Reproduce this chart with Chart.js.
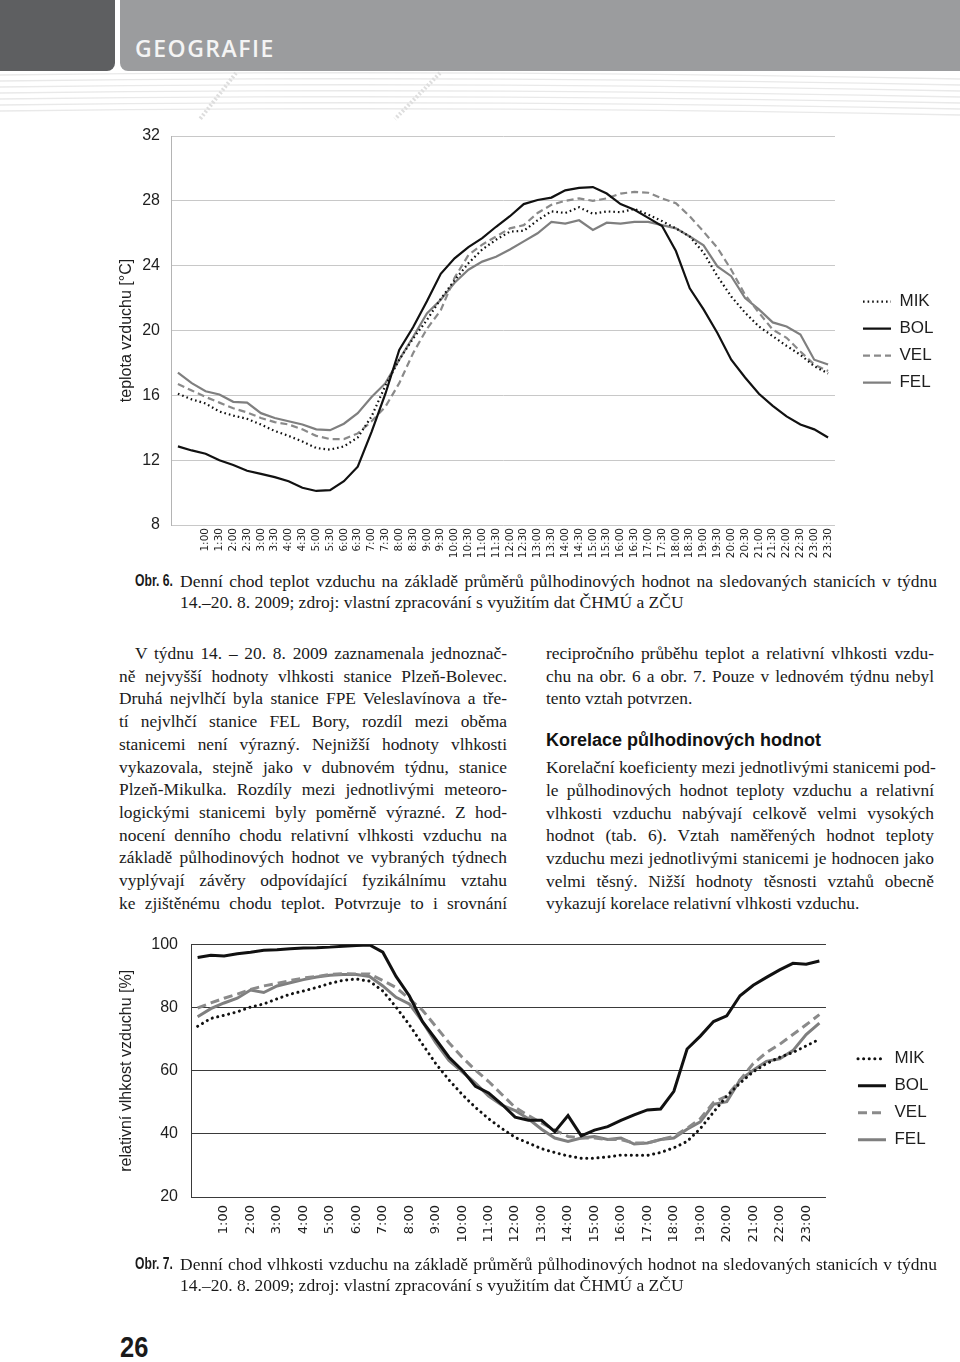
<!DOCTYPE html>
<html lang="cs">
<head>
<meta charset="utf-8">
<title>Geografie – obr. 6 a 7</title>
<script src="https://cdn.jsdelivr.net/npm/chart.js@4/dist/chart.umd.min.js"></script>
<style>
  html, body { margin: 0; padding: 0; background: #fff; }
  body { width: 960px; height: 1362px; position: relative; overflow: hidden;
         font-family: 'Liberation Serif', serif; color: #1a1a1a; }
  #tabDark { position: absolute; left: 0; top: 0; width: 115px; height: 71px;
             background: #5e5f61; border-bottom-right-radius: 8px; }
  #tabLight { position: absolute; left: 120px; top: 0; width: 840px; height: 71px;
              background: #9b9c9e; border-bottom-left-radius: 8px; }
  #tabLight span { position: absolute; left: 15px; top: 37px; font: 600 23px/23px 'Open Sans', sans-serif;
                   color: #f4f4f4; letter-spacing: 1.5px; }
  #deco { position: absolute; left: 0; top: 71px; }
  .chartBox { position: absolute; left: 100px; width: 860px; }
  #box1 { top: 115px; height: 450px; }
  #box2 { top: 922px; height: 343px; }
  .cap { position: absolute; left: 135px; width: 802px; font-size: 17.5px; line-height: 21px; }
  .cap b { position: absolute; left: 0; top: 1px; font: bold 16px 'Liberation Sans', sans-serif;
           transform: scaleX(0.76); transform-origin: 0 0; white-space: nowrap; }
  .cap div { margin-left: 45px; }
  .col { position: absolute; top: 642px; width: 388px; font-size: 17.4px; line-height: 22.7px; }
  .col div, .cap div { text-align: justify; text-align-last: justify; white-space: nowrap; }
  .col div.end, .cap div.end { text-align-last: left; }
  #colL { left: 119px; }
  #colR { left: 546px; }
  #colL .ind { text-indent: 16px; }
  h3 { margin: 0; height: 46px; box-sizing: border-box; padding-top: 20px;
       font: bold 18px/20px 'Liberation Sans', sans-serif; color: #111; }
  #pageNo { position: absolute; left: 120px; top: 1330px; font: bold 30px 'Liberation Sans', sans-serif;
            color: #1a1a1a; transform: scaleX(0.85); transform-origin: 0 0; }
</style>
</head>
<body>
<div id="tabDark"></div>
<div id="tabLight"><span>GEOGRAFIE</span></div>
<svg id="deco" width="960" height="50" viewBox="0 0 960 50">
  <g fill="none" stroke="#e9e9e9" stroke-width="1.3">
    <path d="M0,4 Q480,-2 960,8"/>
    <path d="M0,10 Q480,4 960,14"/>
    <path d="M0,16 Q480,10 960,20"/>
    <path d="M0,22 Q480,16 960,26"/>
    <path d="M0,28 Q480,22 960,32"/>
    <path d="M0,34 Q480,28 960,38"/>
    <path d="M0,40 Q480,34 960,44"/>
  </g>
  <g stroke="#dedede" stroke-width="4" stroke-dasharray="2 2">
    <line x1="236" y1="2" x2="200" y2="48"/>
    <line x1="440" y1="2" x2="395" y2="48"/>
  </g>
</svg>

<div class="chartBox" id="box1"><canvas id="tempChart"></canvas></div>

<div class="cap" style="top:571px">
  <b>Obr. 6.</b>
  <div>Denní chod teplot vzduchu na základě průměrů půlhodinových hodnot na sledovaných stanicích v týdnu</div>
  <div class="end">14.–20. 8. 2009; zdroj: vlastní zpracování s využitím dat ČHMÚ a ZČU</div>
</div>

<div class="col" id="colL">
  <div class="ind">V týdnu 14. – 20. 8. 2009 zaznamenala jednoznač-</div>
  <div>ně nejvyšší hodnoty vlhkosti stanice Plzeň-Bolevec.</div>
  <div>Druhá nejvlhčí byla stanice FPE Veleslavínova a tře-</div>
  <div>tí nejvlhčí stanice FEL Bory, rozdíl mezi oběma</div>
  <div>stanicemi není výrazný. Nejnižší hodnoty vlhkosti</div>
  <div>vykazovala, stejně jako v dubnovém týdnu, stanice</div>
  <div>Plzeň-Mikulka. Rozdíly mezi jednotlivými meteoro-</div>
  <div>logickými stanicemi byly poměrně výrazné. Z hod-</div>
  <div>nocení denního chodu relativní vlhkosti vzduchu na</div>
  <div>základě půlhodinových hodnot ve vybraných týdnech</div>
  <div>vyplývají závěry odpovídající fyzikálnímu vztahu</div>
  <div>ke zjištěnému chodu teplot. Potvrzuje to i srovnání</div>
</div>

<div class="col" id="colR">
  <div>recipročního průběhu teplot a relativní vlhkosti vzdu-</div>
  <div>chu na obr. 6 a obr. 7. Pouze v lednovém týdnu nebyl</div>
  <div class="end">tento vztah potvrzen.</div>
  <h3>Korelace půlhodinových hodnot</h3>
  <div>Korelační koeficienty mezi jednotlivými stanicemi pod-</div>
  <div>le půlhodinových hodnot teploty vzduchu a relativní</div>
  <div>vlhkosti vzduchu nabývají celkově velmi vysokých</div>
  <div>hodnot (tab. 6). Vztah naměřených hodnot teploty</div>
  <div>vzduchu mezi jednotlivými stanicemi je hodnocen jako</div>
  <div>velmi těsný. Nižší hodnoty těsnosti vztahů obecně</div>
  <div class="end">vykazují korelace relativní vlhkosti vzduchu.</div>
</div>

<div class="chartBox" id="box2"><canvas id="humChart"></canvas></div>

<div class="cap" style="top:1254px">
  <b>Obr. 7.</b>
  <div>Denní chod vlhkosti vzduchu na základě průměrů půlhodinových hodnot na sledovaných stanicích v týdnu</div>
  <div class="end">14.–20. 8. 2009; zdroj: vlastní zpracování s využitím dat ČHMÚ a ZČU</div>
</div>

<div id="pageNo">26</div>

<script>
// half-hour categories (first labels are not printed in the original)
const times = ['0:00','0:30','1:00','1:30','2:00','2:30','3:00','3:30','4:00','4:30','5:00','5:30',
  '6:00','6:30','7:00','7:30','8:00','8:30','9:00','9:30','10:00','10:30','11:00','11:30',
  '12:00','12:30','13:00','13:30','14:00','14:30','15:00','15:30','16:00','16:30','17:00','17:30',
  '18:00','18:30','19:00','19:30','20:00','20:30','21:00','21:30','22:00','22:30','23:00','23:30'];
const stations = ['MIK', 'BOL', 'VEL', 'FEL'];

// obr. 6 – teplota vzduchu [°C]
const tempTicks = [8, 12, 16, 20, 24, 28, 32];
const mikTemp = [16.1, 15.75, 15.5, 15.0, 14.75, 14.55, 14.2, 13.8, 13.5, 13.15, 12.75, 12.65,
  12.85, 13.4, 14.7, 16.6, 18.2, 19.5, 20.65, 21.95, 23.1, 24.15, 25.0, 25.6,
  26.1, 26.15, 26.8, 27.35, 27.25, 27.6, 27.2, 27.35, 27.3, 27.5, 27.15, 26.75,
  26.3, 25.8, 24.8, 23.35, 22.1, 21.1, 20.25, 19.65, 19.05, 18.5, 17.8, 17.35];
const bolTemp = [12.85, 12.6, 12.4, 12.0, 11.7, 11.35, 11.15, 10.95, 10.7, 10.3, 10.1, 10.15,
  10.7, 11.6, 13.75, 16.1, 18.8, 20.2, 21.8, 23.5, 24.45, 25.15, 25.7, 26.4,
  27.05, 27.8, 28.05, 28.2, 28.65, 28.8, 28.85, 28.45, 27.8, 27.45, 26.95, 26.45,
  24.9, 22.6, 21.3, 19.85, 18.2, 17.1, 16.1, 15.35, 14.7, 14.2, 13.9, 13.4];
const velTemp = [16.7, 16.3, 15.9, 15.55, 15.2, 14.95, 14.6, 14.35, 14.2, 13.9, 13.5, 13.3,
  13.3, 13.65, 14.4, 15.3, 16.75, 18.6, 20.1, 21.25, 23.25, 24.65, 25.3, 25.8,
  26.3, 26.5, 27.25, 27.75, 28.0, 28.15, 28.0, 28.15, 28.45, 28.55, 28.5, 28.15,
  27.85, 27.05, 26.1, 25.1, 23.75, 22.2, 21.1, 20.05, 19.55, 18.7, 17.9, 17.5];
const felTemp = [17.4, 16.75, 16.25, 16.05, 15.6, 15.55, 14.9, 14.6, 14.4, 14.2, 13.9, 13.85,
  14.25, 14.9, 15.9, 16.75, 18.2, 19.6, 21.05, 21.9, 22.95, 23.75, 24.25, 24.55,
  25.0, 25.5, 26.0, 26.7, 26.6, 26.8, 26.2, 26.65, 26.6, 26.7, 26.7, 26.5,
  26.3, 25.8, 25.25, 23.95, 23.35, 22.0, 21.3, 20.5, 20.25, 19.75, 18.2, 17.9];

// obr. 7 – relativní vlhkost vzduchu [%]
const humTicks = [20, 40, 60, 80, 100];
const mikHum = [74.1, 76.6, 77.6, 78.7, 80.2, 81.2, 82.8, 84.3, 85.3, 86.4, 87.7, 88.7,
  89.1, 88.4, 85.3, 80.2, 74.6, 68.4, 62.3, 57.1, 52.5, 48.4, 44.8, 41.7,
  38.9, 37.1, 35.3, 34.1, 33.0, 32.3, 32.3, 32.7, 33.3, 33.2, 33.2, 34.1,
  35.6, 37.6, 41.7, 46.9, 52.0, 56.1, 59.7, 62.3, 64.3, 65.8, 67.9, 70.0];
const bolHum = [95.9, 96.6, 96.4, 97.1, 97.6, 98.2, 98.4, 98.7, 98.9, 99.0, 99.2, 99.5,
  99.7, 99.9, 97.6, 89.9, 83.8, 75.6, 70.0, 64.3, 60.2, 55.1, 53.0, 49.4,
  45.3, 44.3, 44.3, 40.7, 45.8, 39.4, 41.2, 42.3, 44.3, 46.05, 47.6, 47.9,
  53.5, 66.9, 71.0, 75.6, 77.4, 83.8, 87.1, 89.6, 92.0, 94.05, 93.8, 94.8];
const velHum = [79.9, 81.5, 83.0, 84.3, 85.8, 86.9, 87.7, 88.6, 89.4, 89.9, 90.5, 90.8,
  90.7, 90.7, 88.6, 86.4, 82.8, 79.2, 74.1, 68.9, 64.3, 60.2, 56.6, 52.5,
  48.4, 45.8, 43.5, 41.2, 39.2, 38.7, 38.7, 38.2, 38.2, 37.1, 37.1, 38.2,
  39.2, 41.8, 44.8, 50.0, 52.0, 57.1, 62.3, 65.8, 68.4, 71.5, 74.6, 77.8];
const felHum = [77.1, 79.7, 81.5, 83.0, 85.6, 84.8, 86.9, 87.9, 88.9, 89.7, 90.3, 90.5,
  90.5, 89.9, 86.9, 83.3, 81.2, 75.6, 68.9, 63.3, 59.7, 56.1, 52.0, 49.1,
  47.4, 44.8, 41.5, 38.7, 37.6, 38.7, 39.2, 38.2, 38.7, 36.8, 37.1, 38.2,
  38.7, 41.5, 43.8, 49.4, 50.2, 57.1, 60.2, 63.0, 63.8, 66.4, 71.5, 75.1];

const INK = '#1e1e1e';

// legend samples copy the dash pattern of their line
function legendItems(chart) {
  return Chart.defaults.plugins.legend.labels.generateLabels(chart).map(item => {
    const ds = chart.data.datasets[item.datasetIndex];
    return Object.assign(item, {
      lineDash: ds.borderDash, lineCap: ds.borderCapStyle,
      strokeStyle: ds.borderColor, fillStyle: ds.borderColor, lineWidth: ds.borderWidth
    });
  });
}

function makeChart(id, o) {
  const ctx = document.getElementById(id).getContext('2d');
  const datasets = stations.map((name, i) => ({
    label: name,
    data: o.series[i],
    yAxisID: 'y',
    borderColor: o.styles[i].color,
    borderWidth: o.lineWidth,
    borderDash: o.styles[i].dash,
    borderCapStyle: o.styles[i].cap || 'butt',
    pointRadius: 0,
    tension: 0,
    fill: false
  }));
  return new Chart(ctx, {
    type: 'line',
    data: { labels: times, datasets },
    options: {
      responsive: true,
      maintainAspectRatio: false,
      animation: false,
      layout: { padding: o.padding },
      plugins: {
        tooltip: { enabled: false },
        legend: {
          position: 'right',
          fullSize: false,
          title: { display: true, text: '', font: { size: 10 }, padding: { top: o.legendShift, bottom: o.legendShift } },
          labels: {
            usePointStyle: true, pointStyle: 'line', pointStyleWidth: 28, padding: 10,
            color: INK, font: { family: 'Liberation Sans', size: 17 },
            generateLabels: legendItems
          }
        }
      },
      scales: {
        x: {
          offset: true,
          grid: { display: false, drawTicks: false },
          border: { display: false },
          ticks: {
            autoSkip: false, minRotation: 90, maxRotation: 90, padding: o.xPad,
            color: INK, font: { family: 'DejaVu Sans', size: o.xFont },
            callback: (v, i) => o.showLabel(i) ? times[i] : ''
          },
          afterFit: s => { s.height = o.xHeight; }
        },
        y: {
          min: o.ticks[0], max: o.ticks[o.ticks.length - 1],
          afterBuildTicks: s => { s.ticks = o.ticks.map(v => ({ value: v })); },
          grid: { color: o.gridColor, drawTicks: false, lineWidth: 1 },
          border: { color: o.axisColor },
          ticks: { padding: o.yPad, color: INK, font: { family: 'Liberation Sans', size: 16 } },
          title: { display: true, text: o.yTitle, color: INK, font: { family: 'Liberation Sans', size: 16 }, padding: { top: 17, bottom: 0 } },
          afterFit: s => { s.width = o.yWidth; }
        },
        gap: {
          position: 'right', display: true,
          grid: { display: false }, border: { display: false }, ticks: { display: false },
          afterFit: s => { s.width = o.gap; }
        }
      }
    }
  });
}

makeChart('tempChart', {
  series: [mikTemp, bolTemp, velTemp, felTemp],
  styles: [
    { color: '#111', dash: [1.6, 3] },
    { color: '#111', dash: [] },
    { color: '#8a8a8a', dash: [7, 4] },
    { color: '#7f7f7f', dash: [] }
  ],
  lineWidth: 2.2,
  ticks: tempTicks,
  yTitle: 'teplota vzduchu [°C]',
  gridColor: '#c8c8c8', axisColor: '#b4b4b4',
  padding: { top: 21, right: 16.5, bottom: 0, left: 0 },
  yWidth: 71, yPad: 11, xHeight: 40, xPad: 3, xFont: 10.5,
  gap: 18, legendShift: 5.7,
  showLabel: i => i >= 2
});

makeChart('humChart', {
  series: [mikHum, bolHum, velHum, felHum],
  styles: [
    { color: '#111', dash: [0.1, 5.5], cap: 'round' },
    { color: '#111', dash: [] },
    { color: '#8a8a8a', dash: [9, 5] },
    { color: '#7f7f7f', dash: [] }
  ],
  lineWidth: 3,
  ticks: humTicks,
  yTitle: 'relativní vlhkost vzduchu [%]',
  gridColor: '#3a3a3a', axisColor: '#3a3a3a',
  padding: { top: 15, right: 21.5, bottom: 0, left: 0 },
  yWidth: 91, yPad: 13, xHeight: 68, xPad: 8, xFont: 13,
  gap: 22, legendShift: 22.5,
  showLabel: i => i >= 2 && i % 2 === 0
});
</script>
</body>
</html>
